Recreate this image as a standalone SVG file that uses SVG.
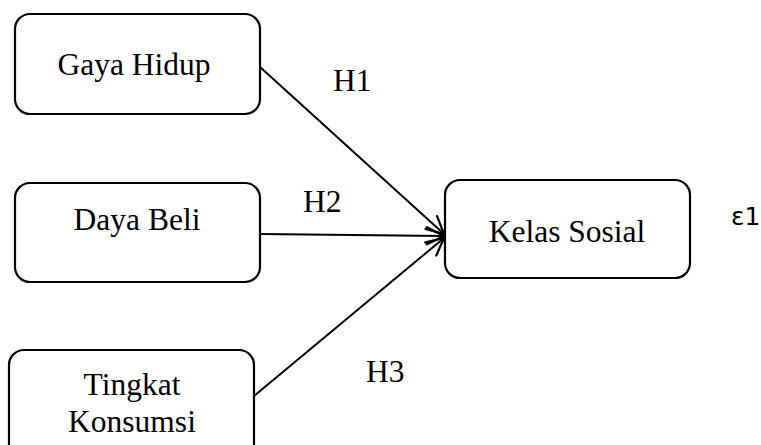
<svg xmlns="http://www.w3.org/2000/svg" width="761" height="445" viewBox="0 0 761 445">
<style>
.box{fill:#fff;stroke:#000;stroke-width:2.2}
.c{stroke:#000;stroke-width:2;fill:none}
</style>
<defs>
<marker id="ah" markerWidth="24" markerHeight="20" refX="20" refY="10" orient="auto" markerUnits="userSpaceOnUse">
<path d="M2,1 L20,10 L2,19" fill="none" stroke="#000" stroke-width="2.2"/>
</marker>
</defs>
<rect width="761" height="445" fill="#fff"/>
<g id="connectors">
<line class="c" x1="260" y1="67" x2="444" y2="234" marker-end="url(#ah)"/>
<line class="c" x1="260" y1="234" x2="444" y2="236" marker-end="url(#ah)"/>
<line class="c" x1="254" y1="396" x2="444" y2="238" marker-end="url(#ah)"/>
</g>
<g font-family="Liberation Serif, Times New Roman, serif" font-size="31.5" fill="#000">
<g id="gaya-hidup">
<rect class="box" x="15" y="14" width="245" height="100" rx="15"/>
<text x="134" y="75" text-anchor="middle">Gaya Hidup</text>
</g>
<g id="daya-beli">
<rect class="box" x="15" y="183" width="245" height="99" rx="15"/>
<text x="137" y="230" text-anchor="middle">Daya Beli</text>
</g>
<g id="tingkat-konsumsi">
<rect class="box" x="9" y="350" width="245" height="110" rx="15"/>
<text x="132" y="395" text-anchor="middle">Tingkat</text>
<text x="132" y="432" text-anchor="middle">Konsumsi</text>
</g>
<g id="kelas-sosial">
<rect class="box" x="445" y="180" width="245" height="98" rx="15"/>
<text x="567" y="242" text-anchor="middle">Kelas Sosial</text>
</g>
<g id="labels">
<text x="333" y="91">H1</text>
<text x="303" y="212">H2</text>
<text x="366" y="382">H3</text>
</g>
</g>
<text x="731" y="225" font-family="DejaVu Sans, sans-serif" font-size="25" fill="#000">ε1</text>
</svg>
